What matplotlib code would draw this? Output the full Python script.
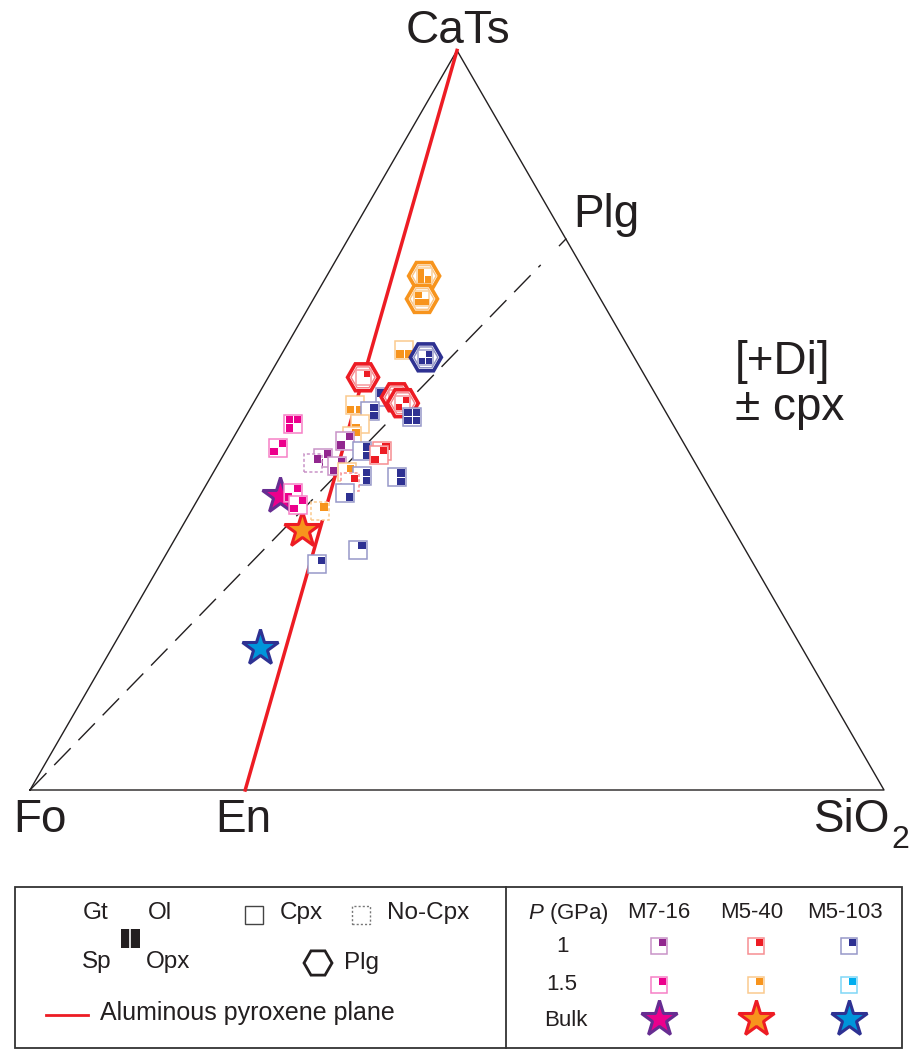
import numpy as np
import matplotlib
matplotlib.use("Agg")
import matplotlib.pyplot as plt
from matplotlib.patches import Rectangle, RegularPolygon
from matplotlib.colors import to_rgb

plt.rcParams['font.family'] = ['Liberation Sans', 'DejaVu Sans']
plt.rcParams['mathtext.fontset'] = 'custom'
plt.rcParams['mathtext.rm'] = 'Liberation Sans'
plt.rcParams['mathtext.it'] = 'Liberation Sans:italic'

# experiment colours: (sample, pressure)
COLORS = {
    'M7-16 1': '#92278F', 'M7-16 1.5': '#EC008C',
    'M5-40 1': '#ED1C24', 'M5-40 1.5': '#F7941D',
    'M5-103 1': '#2E3192', 'M5-103 1.5': '#00AEEF',
}

# experimental run products, mol% CaTs and SiO2 (Fo = 100 - CaTs - SiO2)
run_cats = [69.5, 66.4, 59.5, 58.5, 55.8, 53.1, 53.1, 52.3, 52.0, 51.2, 50.5, 49.5,
            49.5, 46.3, 47.8, 47.2, 45.8, 45.9, 45.3, 44.85, 44.2, 43.8, 42.95, 42.4,
            42.3, 41.6, 40.2, 40.2, 38.6, 37.7, 32.5, 30.5]
run_sio2 = [11.4, 12.7, 14.05, 17.1, 11.1, 15.0, 16.4, 17.5, 12.06, 14.2, 19.5, 13.9,
            6.1, 5.9, 13.8, 13.3, 16.0, 18.25, 18.24, 11.9, 11.05, 14.1, 15.6, 17.7,
            21.8, 16.7, 16.8, 10.7, 12.1, 15.1, 22.15, 18.4]
run_series = ['M5-40 1.5', 'M5-40 1.5', 'M5-40 1.5', 'M5-103 1', 'M5-40 1', 'M5-103 1',
              'M5-40 1', 'M5-40 1', 'M5-40 1.5', 'M5-103 1', 'M5-103 1', 'M5-40 1.5',
              'M7-16 1.5', 'M7-16 1.5', 'M5-40 1.5', 'M7-16 1', 'M5-103 1', 'M5-40 1',
              'M5-40 1', 'M7-16 1', 'M7-16 1', 'M7-16 1', 'M5-40 1.5', 'M5-103 1',
              'M5-103 1', 'M5-40 1', 'M5-103 1', 'M7-16 1.5', 'M7-16 1.5', 'M5-40 1.5',
              'M5-103 1', 'M5-103 1']
run_phases = ['Gt+Sp+Opx', 'Gt+Sp+Opx', 'Sp+Opx', 'Ol+Sp+Opx', 'Ol', 'Gt+Ol+Opx',
              'Ol+Sp', 'Ol+Sp', 'Sp+Opx', 'Ol+Opx', 'Gt+Ol+Sp+Opx', 'Sp',
              'Gt+Ol+Sp', 'Ol+Sp', 'Ol', 'Ol+Sp', 'Ol+Opx', 'Ol+Sp',
              'Ol+Sp', 'Ol+Sp', 'Ol', 'Ol+Sp', 'Ol', 'Ol+Opx',
              'Ol+Opx', 'Ol', 'Opx', 'Ol+Sp', 'Ol+Sp', 'Ol',
              'Ol', 'Ol']
run_cpx = [True, True, True, True, True, True, True, True, True, True, True, True,
           True, True, True, True, True, True, True, True, False, True, True, True,
           True, False, True, True, True, False, True, True]
run_plg = [True, True, False, True, True, False, True, True, False, False, False, False,
           False, False, False, False, False, False, False, False, False, False, False, False,
           False, False, False, False, False, False, False, False]

# bulk compositions
bulk_names = ['M7-16', 'M5-40', 'M5-103']
bulk_cats = [39.8, 35.1, 19.2]
bulk_sio2 = [9.35, 14.3, 17.3]
bulk_fill = ['#EC008C', '#F7941D', '#0095DA']
bulk_edge = ['#662D91', '#ED1C24', '#2E3192']

# reference points on the triangle edges
en_sio2 = 25.2      # En on Fo-SiO2 join
plg_cats = 74.5     # Plg on CaTs-SiO2 join

QUAD = {'Gt': (-1, 1), 'Ol': (1, 1), 'Sp': (-1, -1), 'Opx': (1, -1)}
PX = 1 / 854.0


def tern(cats, sio2):
    cats = np.asarray(cats, float) / 100
    sio2 = np.asarray(sio2, float) / 100
    return sio2 + cats / 2, cats * np.sqrt(3) / 2


def pxd(x, y):
    return (x - 30) * PX, (790 - y) * PX


def pale(c, f=0.5):
    r = np.array(to_rgb(c))
    return tuple(r + (1 - r) * f)


def quad_square(ax, x, y, col, phases, size, dashed=False, z=3, edge=None):
    s = size * PX
    ax.add_patch(Rectangle((x - s / 2, y - s / 2), s, s, fc='white',
                           ec=edge if edge else pale(col),
                           lw=1.1, ls=(0, (2, 1.5)) if dashed else '-', zorder=z))
    q = 0.405 * s
    g = 0.03 * s
    for ph in phases.split('+'):
        if ph not in QUAD:
            continue
        sx, sy = QUAD[ph]
        x0 = x + g if sx > 0 else x - g - q
        y0 = y + g if sy > 0 else y - g - q
        ax.add_patch(Rectangle((x0, y0), q, q, fc=col, ec='none', zorder=z + 0.001))


def hexagon(ax, x, y, col, z=4, r=14, inner=True, lw=2.2):
    ax.add_patch(RegularPolygon((x, y), 6, radius=r * PX, orientation=np.pi / 6,
                                fc='white', ec=col, lw=lw, zorder=z))
    if inner:
        ax.add_patch(RegularPolygon((x, y), 6, radius=(r - 3.5) * PX, orientation=np.pi / 6,
                                    fc='none', ec=pale(col, 0.45), lw=1, zorder=z + 0.001))


fig = plt.figure(figsize=(9.14, 10.51), dpi=100)
ax = fig.add_axes([0, 0, 1, 1])
x0, y0 = pxd(0, 1051)
x1, y1 = pxd(914, 0)
ax.set_xlim(x0, x1)
ax.set_ylim(y0, y1)
ax.axis('off')

# triangle
vx, vy = tern([0, 0, 100, 0], [0, 100, 0, 0])
ax.plot(vx, vy, color='#231F20', lw=1, zorder=1)

# aluminous pyroxene plane
lx, ly = tern([100, 0], [0, en_sio2])
ax.plot(lx, ly, color='#ED1C24', lw=2.5, zorder=2)

# Fo - Plg dashed join
px_, py_ = tern(plg_cats, 100 - plg_cats)
fx, fy = tern(0, 0)
t = 0.953
ax.plot([fx, fx + t * (px_ - fx)], [fy, fy + t * (py_ - fy)], color='#231F20', lw=1,
        dashes=(17, 8), zorder=1)
ax.plot([px_, px_ - 0.012 * (px_ - fx)], [py_, py_ - 0.012 * (py_ - fy)],
        color='#231F20', lw=1, zorder=1)

# bulk compositions
bx, by = tern(bulk_cats, bulk_sio2)
for i in range(3):
    ax.plot(bx[i], by[i], marker='*', ms=27, mfc=bulk_fill[i], mec=bulk_edge[i],
            mew=2.2, zorder=2.5)

# run products
rx, ry = tern(run_cats, run_sio2)
for i in range(len(run_cats)):
    col = COLORS[run_series[i]]
    z = 3 + i * 0.01
    if run_plg[i]:
        hexagon(ax, rx[i], ry[i], col, z=z, r=15.5, lw=2.6)
        quad_square(ax, rx[i], ry[i], col, run_phases[i], 15, z=z + 0.002, edge=pale(col, 0.55))
    else:
        quad_square(ax, rx[i], ry[i], col, run_phases[i], 18, dashed=not run_cpx[i], z=z)

# labels
lab = dict(fontsize=33, color='#231F20', ha='center', va='center')
ax.text(*pxd(458, 31), 'CaTs', **lab)
ax.text(*pxd(40, 820), 'Fo', **lab)
ax.text(*pxd(243, 820), 'En', **lab)
ax.text(*pxd(852, 820), 'SiO', **lab)
ax.text(*pxd(900, 840), '2', fontsize=23, color='#231F20', ha='center', va='center')
ax.text(*pxd(606, 215), 'Plg', **lab)
ax.text(*pxd(783, 362), '[+Di]', **lab)
ax.text(*pxd(790, 408), '± cpx', **lab)

# legend box
bx0, by0 = pxd(15, 1048)
bx1, by1 = pxd(902, 887)
ax.add_patch(Rectangle((bx0, by0), bx1 - bx0, by1 - by0, fc='white', ec='#333333', lw=1.3))
dx0, dy0 = pxd(506, 1048)
ax.plot([dx0, dx0], [dy0, by1], color='#333333', lw=1.3)

lt = dict(fontsize=17.5, color='#231F20', ha='center', va='center')
ax.text(*pxd(96, 913), 'Gt', **lt)
ax.text(*pxd(160, 913), 'Ol', **lt)
ax.text(*pxd(97, 962), 'Sp', **lt)
ax.text(*pxd(168, 962), 'Opx', **lt)
kx, ky = pxd(121, 948)
ax.add_patch(Rectangle((kx, ky), 19 * PX, 19 * PX, fc='#231F20', ec='none'))
ax.plot([kx + 9.5 * PX] * 2, [ky, ky + 19 * PX], color='white', lw=1.2)

cx, cy = pxd(254, 915)
ax.add_patch(Rectangle((cx - 9 * PX, cy - 9 * PX), 18 * PX, 18 * PX, fc='white', ec='#444444', lw=1))
ax.text(*pxd(301, 913), 'Cpx', **lt)
nx, ny = pxd(361, 915)
ax.add_patch(Rectangle((nx - 9 * PX, ny - 9 * PX), 18 * PX, 18 * PX, fc='white', ec='#777777',
                       lw=1, ls=(0, (1.5, 1.5))))
ax.text(*pxd(428, 913), 'No-Cpx', **lt)
hexagon(ax, *pxd(318, 963), '#231F20', r=14, inner=False, lw=2)
ax.text(*pxd(362, 963), 'Plg', **lt)
ax.plot(*zip(pxd(46, 1015), pxd(88, 1015)), color='#ED1C24', lw=2)
ax.text(*pxd(100, 1013), 'Aluminous pyroxene plane', fontsize=18, color='#231F20',
        ha='left', va='center')

rt = dict(fontsize=16, color='#231F20', ha='center', va='center')
ax.text(*pxd(568, 913), r'$\it{P}$ (GPa)', **rt)
col_x = [659, 756, 849]
head_x = [659, 752, 845]
for j, name in enumerate(bulk_names):
    ax.text(*pxd(head_x[j], 913), name, **rt)
ax.text(*pxd(563, 946), '1', **rt)
ax.text(*pxd(562, 984), '1.5', **rt)
ax.text(*pxd(566, 1020), 'Bulk', **rt)
for j, name in enumerate(bulk_names):
    qx, qy = pxd(col_x[j], 946)
    quad_square(ax, qx, qy, COLORS[name + ' 1'], 'Ol', 16)
    qx, qy = pxd(col_x[j], 985)
    quad_square(ax, qx, qy, COLORS[name + ' 1.5'], 'Ol', 16)
    sx, sy = pxd(col_x[j], 1019)
    ax.plot(sx, sy, marker='*', ms=27, mfc=bulk_fill[j], mec=bulk_edge[j], mew=2.2)

fig.savefig('out.png', dpi=100)
